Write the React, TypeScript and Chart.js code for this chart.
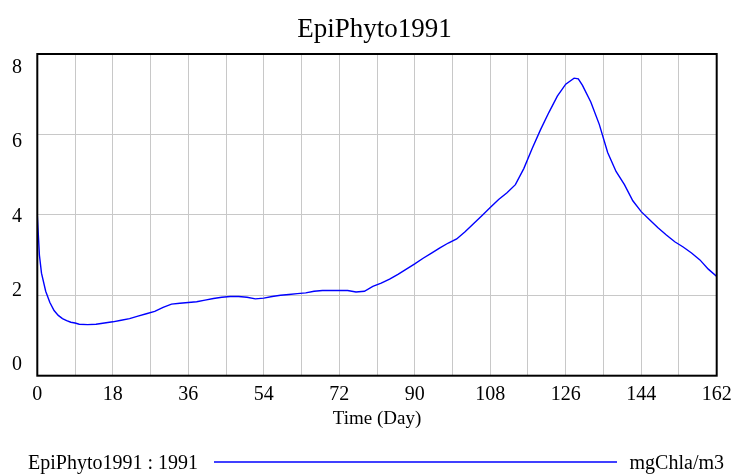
import React, { useEffect, useRef } from 'react';
import { Chart, registerables } from 'chart.js';

Chart.register(...registerables);

const chartTitle = 'EpiPhyto1991';
const xAxisTitle = 'Time (Day)';
const seriesName = 'EpiPhyto1991 : 1991';
const unitLabel = 'mgChla/m3';

const days = [
  0, 0.5, 1, 2, 3, 4, 5, 6, 7, 8, 9, 10, 12, 14, 16, 18, 20, 22, 24, 26, 28, 30,
  32, 34, 36, 38, 40, 42, 44, 46, 48, 50, 52, 54, 56, 58, 60, 62, 64, 66, 68, 70,
  72, 74, 76, 78, 80, 82, 84, 86, 88, 90, 92, 94, 96, 98, 100, 102, 104, 106, 108,
  110, 112, 114, 116, 118, 120, 122, 124, 126, 128, 129, 130, 132, 134, 136, 138,
  140, 142, 144, 146, 148, 150, 152, 154, 156, 158, 160, 162,
];
const values = [
  4.0, 3.0, 2.55, 2.1, 1.82, 1.62, 1.5, 1.42, 1.37, 1.33, 1.31, 1.28, 1.27, 1.28,
  1.31, 1.34, 1.38, 1.42, 1.48, 1.54, 1.6, 1.7, 1.78, 1.8, 1.82, 1.84, 1.88, 1.92,
  1.95, 1.97, 1.97, 1.95, 1.91, 1.93, 1.97, 2.0, 2.02, 2.04, 2.06, 2.1, 2.12, 2.12,
  2.12, 2.12, 2.08, 2.1, 2.22, 2.3, 2.4, 2.52, 2.65, 2.78, 2.92, 3.05, 3.18, 3.3,
  3.4, 3.58, 3.78, 3.98, 4.18, 4.38, 4.55, 4.75, 5.15, 5.65, 6.12, 6.55, 6.95, 7.25,
  7.4, 7.38, 7.22, 6.8, 6.25, 5.55, 5.08, 4.75, 4.35, 4.08, 3.88, 3.68, 3.5, 3.33,
  3.2, 3.05, 2.88, 2.65, 2.47,
];
const xTickLabels = [0, 18, 36, 54, 72, 90, 108, 126, 144, 162];
const yTickLabels = [0, 2, 4, 6, 8];

const FONT = '"Liberation Serif", "Times New Roman", serif';

export default function App() {
  const ref = useRef<HTMLCanvasElement | null>(null);

  useEffect(() => {
    const canvas = ref.current;
    if (!canvas) return;

    const textPlugin = {
      id: 'vensimText',
      afterDraw(chart: any) {
        const ctx = chart.ctx as CanvasRenderingContext2D;
        const { left, right, top, bottom } = chart.chartArea;
        const xs = chart.scales.x;
        ctx.save();
        // frame
        ctx.strokeStyle = '#000';
        ctx.lineWidth = 2;
        ctx.strokeRect(left, top, right - left, bottom - top);

        ctx.fillStyle = '#000';
        ctx.textBaseline = 'alphabetic';
        // title
        ctx.font = `27px ${FONT}`;
        ctx.textAlign = 'center';
        ctx.fillText(chartTitle, 374.5, 37);

        // y labels (spread inside the frame, Vensim style)
        ctx.font = `20px ${FONT}`;
        const yMax = yTickLabels[yTickLabels.length - 1];
        const yMin = yTickLabels[0];
        const yFirst = top + 19.3;
        const yLast = bottom - 5.7;
        yTickLabels.forEach((v) => {
          const frac = (yMax - v) / (yMax - yMin);
          const y = yFirst + frac * (yLast - yFirst);
          ctx.fillText(String(v), 17, y);
        });

        // x labels
        xTickLabels.forEach((v) => {
          ctx.fillText(String(v), xs.getPixelForValue(v), 400);
        });

        // x title
        ctx.font = `19px ${FONT}`;
        ctx.fillText(xAxisTitle, (left + right) / 2, 424);

        // legend
        ctx.font = `20px ${FONT}`;
        ctx.textAlign = 'left';
        ctx.fillText(seriesName, 28, 469);
        ctx.textAlign = 'right';
        ctx.fillText(unitLabel, 724, 469);
        ctx.strokeStyle = 'rgb(0,0,255)';
        ctx.lineWidth = 1.3;
        ctx.beginPath();
        ctx.moveTo(214, 462);
        ctx.lineTo(617, 462);
        ctx.stroke();
        ctx.restore();
      },
    };

    const chart = new Chart(canvas, {
      type: 'line',
      data: {
        datasets: [
          {
            label: seriesName,
            data: days.map((d, i) => ({ x: d, y: values[i] })),
            borderColor: 'rgb(0,0,255)',
            borderWidth: 1.4,
            pointRadius: 0,
            tension: 0,
            fill: false,
          },
        ],
      },
      options: {
        responsive: false,
        animation: false,
        layout: { padding: { top: 54, right: 18.3, left: 0, bottom: 0 } },
        plugins: { legend: { display: false }, tooltip: { enabled: false }, title: { display: false } },
        scales: {
          x: {
            type: 'linear',
            min: 0,
            max: 162,
            ticks: { display: false, stepSize: 9 },
            grid: { color: '#c8c8c8', lineWidth: 1, drawTicks: false },
            border: { display: false },
            afterFit: (s: any) => {
              s.height = 98.3;
            },
          },
          y: {
            type: 'linear',
            min: 0,
            max: 8,
            ticks: { display: false, stepSize: 2 },
            grid: { color: '#c8c8c8', lineWidth: 1, drawTicks: false },
            border: { display: false },
            afterFit: (s: any) => {
              s.width = 37.3;
            },
          },
        },
      },
      plugins: [textPlugin],
    } as any);

    return () => chart.destroy();
  }, []);

  return (
    <div style={{ position: 'absolute', left: 0, top: 0, width: 735, height: 474, background: '#fff' }}>
      <canvas ref={ref} width={735} height={474} style={{ width: 735, height: 474 }} />
    </div>
  );
}
